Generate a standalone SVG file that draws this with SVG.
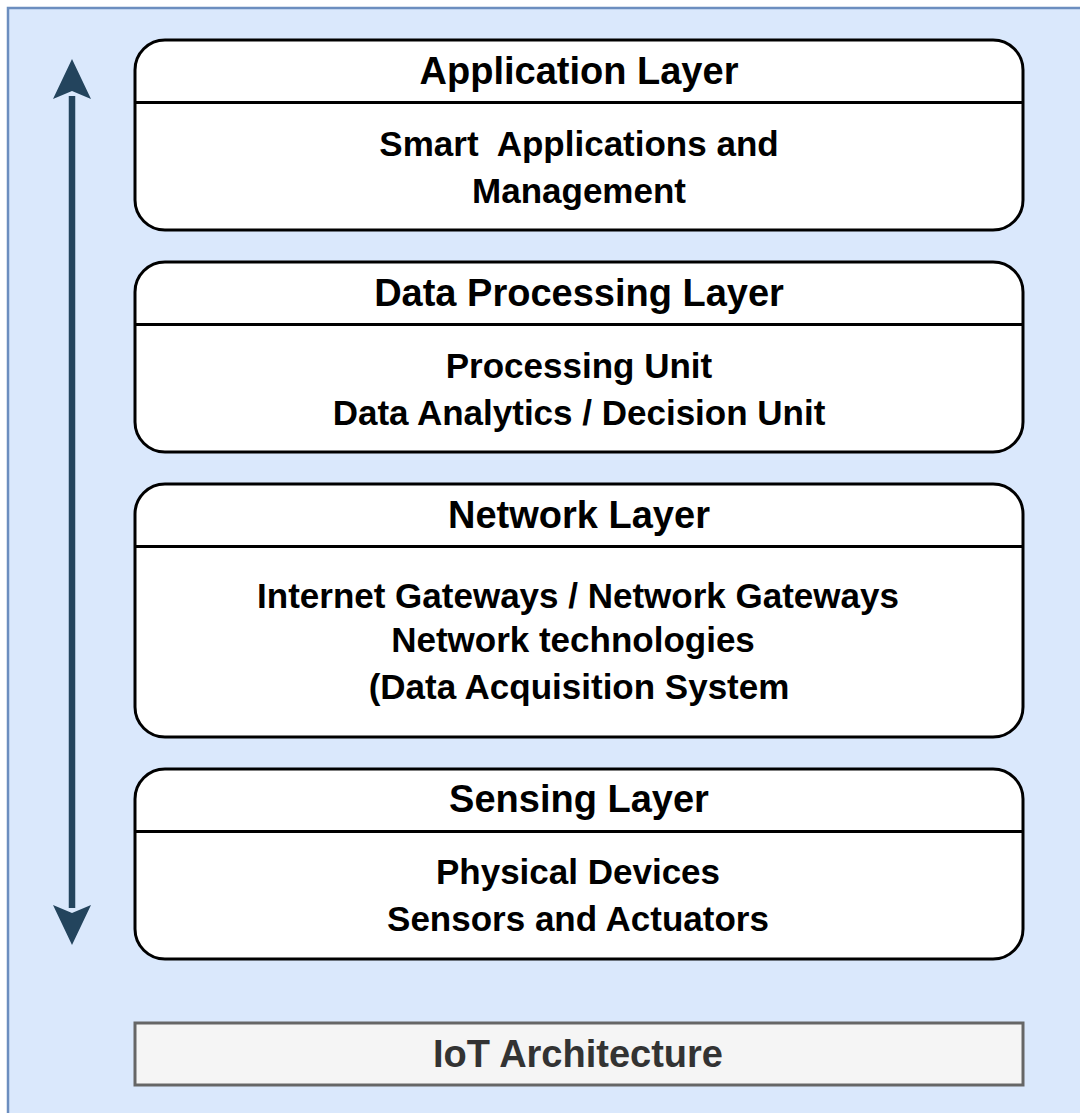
<svg xmlns="http://www.w3.org/2000/svg" width="1080" height="1113" viewBox="0 0 1080 1113">
<defs>
<style>
.frame{fill:#dae8fc;stroke:#6c8ebf;stroke-width:2.5}
.box{fill:#ffffff;stroke:#000000;stroke-width:3}
.div{stroke:#000000;stroke-width:3}
.hdr{font-family:"Liberation Sans",Arial,Helvetica,sans-serif;font-weight:bold;font-size:38px;fill:#000;text-anchor:middle}
.body{font-family:"Liberation Sans",Arial,Helvetica,sans-serif;font-weight:bold;font-size:35px;fill:#000;text-anchor:middle;white-space:pre}
.title{font-family:"Liberation Sans",Arial,Helvetica,sans-serif;font-weight:bold;font-size:38px;fill:#333333;text-anchor:middle}
.tbox{fill:#f5f5f5;stroke:#666666;stroke-width:3}
</style>
</defs>
<rect class="frame" x="8" y="8" width="1100" height="1140"/>
<g id="connectors">
<line x1="72" y1="96" x2="72" y2="908" stroke="#23445d" stroke-width="6.5"/>
<path d="M72,59 L91,99 L72,91 L53,99 Z" fill="#23445d"/>
<path d="M72,945 L91,905 L72,913 L53,905 Z" fill="#23445d"/>
</g>
<g id="application-layer">
<rect class="box" x="135" y="40" width="888" height="190" rx="30" ry="30"/>
<line class="div" x1="135" y1="102.5" x2="1023" y2="102.5"/>
<text class="hdr" x="579" y="84">Application Layer</text>
<text class="body" x="579" y="156">Smart  Applications and</text>
<text class="body" x="579" y="203">Management</text>
</g>
<g id="data-processing-layer">
<rect class="box" x="135" y="262" width="888" height="190" rx="30" ry="30"/>
<line class="div" x1="135" y1="324.5" x2="1023" y2="324.5"/>
<text class="hdr" x="579" y="306">Data Processing Layer</text>
<text class="body" x="579" y="378">Processing Unit</text>
<text class="body" x="579" y="425">Data Analytics / Decision Unit</text>
</g>
<g id="network-layer">
<rect class="box" x="135" y="484" width="888" height="253" rx="30" ry="30"/>
<line class="div" x1="135" y1="546.5" x2="1023" y2="546.5"/>
<text class="hdr" x="579" y="528">Network Layer</text>
<text class="body" x="578" y="608">Internet Gateways / Network Gateways</text>
<text class="body" x="573" y="652">Network technologies</text>
<text class="body" x="579" y="699">(Data Acquisition System</text>
</g>
<g id="sensing-layer">
<rect class="box" x="135" y="769" width="888" height="190" rx="30" ry="30"/>
<line class="div" x1="135" y1="831.5" x2="1023" y2="831.5"/>
<text class="hdr" x="579" y="812">Sensing Layer</text>
<text class="body" x="578" y="884">Physical Devices</text>
<text class="body" x="578" y="931">Sensors and Actuators</text>
</g>
<g id="iot-architecture">
<rect class="tbox" x="135" y="1023" width="888" height="62"/>
<text class="title" x="578" y="1067">IoT Architecture</text>
</g>
</svg>
